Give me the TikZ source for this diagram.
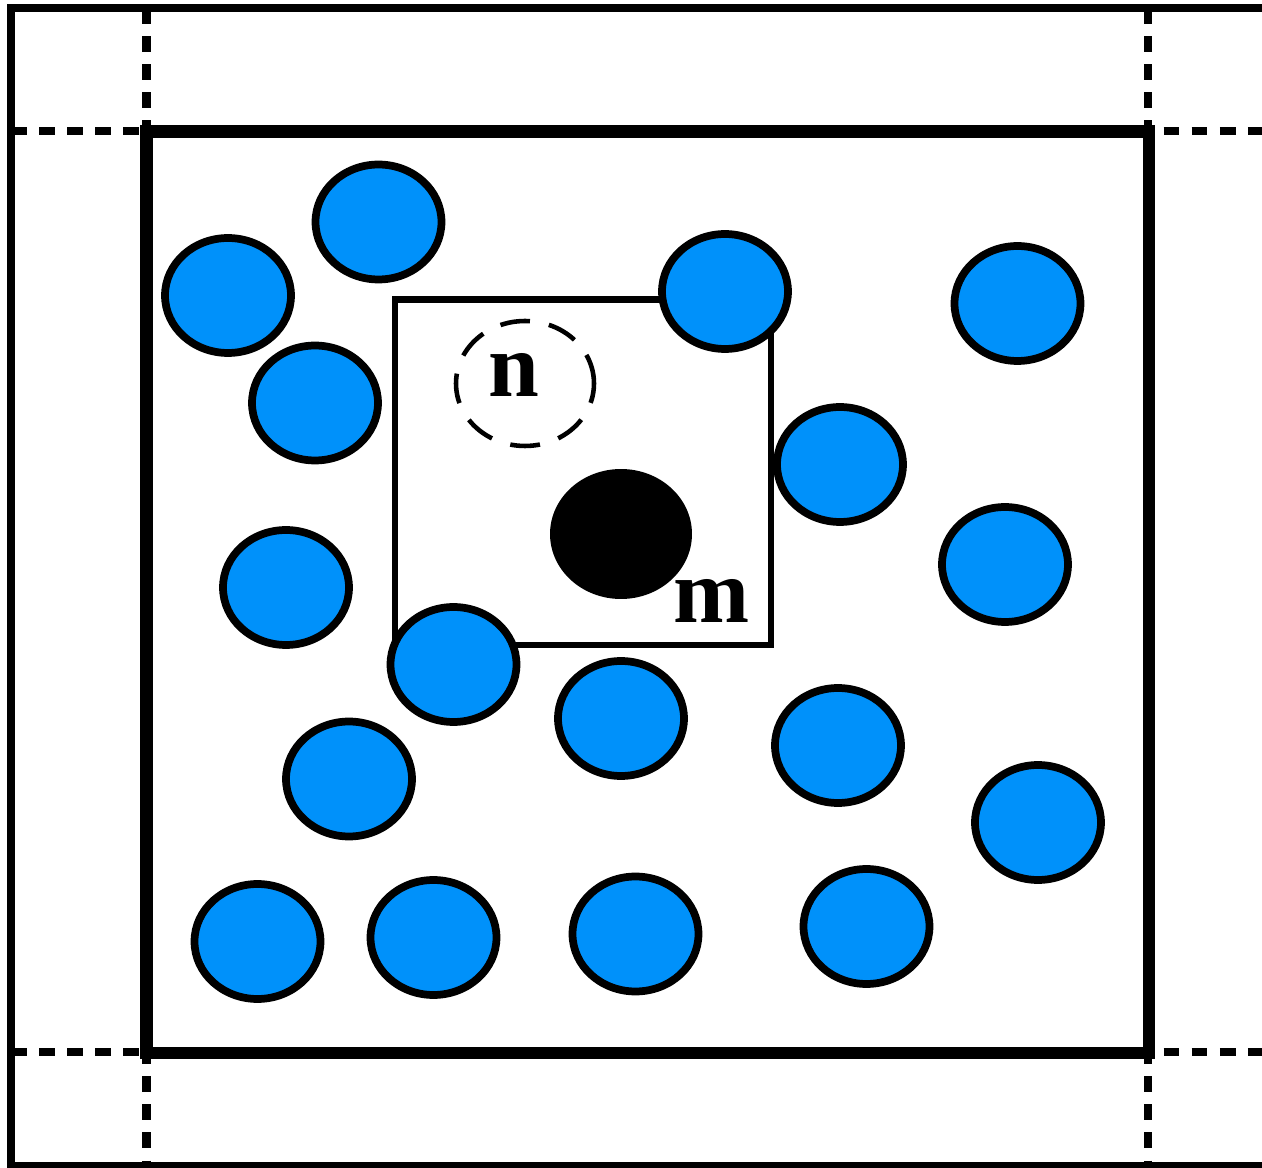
\documentclass[tikz,border=0pt]{standalone}
\usepackage{fontspec}
\setmainfont{Liberation Serif}
\usetikzlibrary{shapes.geometric}
\definecolor{ballblue}{RGB}{0,145,250}
\tikzset{
  outerline/.style={line width=4.6pt},
  guide/.style={line width=5pt, dash pattern=on 9pt off 7pt},
  cellbox/.style={line width=7pt},
  cutbox/.style={line width=3.9pt},
  ball/.style={ellipse, draw=black, fill=ballblue, line width=4.4pt, inner sep=0pt,
    minimum width=2.52cm, minimum height=2.3cm},
  heavy/.style={ellipse, fill=black, inner sep=0pt, minimum width=2.84cm, minimum height=2.6cm},
  ghost/.style={ellipse, draw=black, line width=2.6pt, dash pattern=on 17pt off 11pt,
    inner sep=0pt, minimum width=2.76cm, minimum height=2.5cm},
  lbl/.style={inner sep=0pt, font=\fontsize{52}{52}\selectfont\bfseries}
}
\begin{document}
\begin{tikzpicture}[x=0.02cm, y=-0.02cm]
\useasboundingbox (0,0) rectangle (1262,1168);
% outer frame (right side cut off)
\draw[outerline] (1262,8) -- (11,8) -- (11,1166) -- (1262,1166);
% periodic image guide lines
\coordinate (vl1) at (146.5,8);  \coordinate (vl2) at (146.5,1166);
\coordinate (vr1) at (1148,8);   \coordinate (vr2) at (1148,1166);
\coordinate (ht1) at (11,131);   \coordinate (ht2) at (1262,131);
\coordinate (hb1) at (11,1052);  \coordinate (hb2) at (1262,1052);
\draw[guide] (vl1) -- (vl2);
\draw[guide] (vr1) -- (vr2);
\draw[guide] (ht1) -- (ht2);
\draw[guide] (hb1) -- (hb2);
% simulation cell
\draw[cellbox] (146.5,131.5) rectangle (1149,1053);
% cut-off box
\draw[cutbox] (395,299.5) rectangle (771,645);
% particles
\node[ghost] (nc) at (525,383.5) {};
\node[lbl] (n) at (514,375) {n};
\node[heavy] (mc) at (621,534) {};
\node[lbl] (m) at (712,601) {m};
\node[ball] (b1) at (378.5,222) {};
\node[ball] (b2) at (228,295.5) {};
\node[ball] (b3) at (315,403) {};
\node[ball] (b4) at (725,291.5) {};
\node[ball] (b5) at (1017.5,303.5) {};
\node[ball] (b6) at (840,464.5) {};
\node[ball] (b7) at (286,587.5) {};
\node[ball] (b8) at (1005,564.5) {};
\node[ball] (b9) at (453.5,664.5) {};
\node[ball] (b10) at (621,718.5) {};
\node[ball] (b11) at (349,779) {};
\node[ball] (b12) at (838,745.5) {};
\node[ball] (b13) at (1038,822.5) {};
\node[ball] (b14) at (257.5,941.5) {};
\node[ball] (b15) at (433.5,937.5) {};
\node[ball] (b16) at (635.5,934) {};
\node[ball] (b17) at (866.5,926.5) {};
\end{tikzpicture}
\end{document}
